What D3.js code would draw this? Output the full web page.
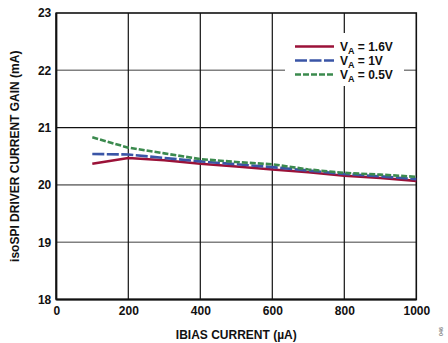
<!DOCTYPE html>
<html><head><meta charset="utf-8">
<script src="https://cdn.jsdelivr.net/npm/d3@7"></script>
<style>body{margin:0;background:#fff}svg{display:block}text{font-family:"Liberation Sans",Arial,sans-serif;font-weight:bold;fill:#111}</style>
</head><body>
<script>
const xValues = [100, 200, 300, 400, 500, 600, 700, 800, 900, 1000];
const va16 = [20.37, 20.47, 20.43, 20.37, 20.32, 20.27, 20.22, 20.16, 20.12, 20.07];
const va1 = [20.54, 20.53, 20.47, 20.41, 20.36, 20.31, 20.25, 20.19, 20.15, 20.10];
const va05 = [20.83, 20.65, 20.55, 20.45, 20.40, 20.36, 20.27, 20.21, 20.18, 20.14];
const xTicks = [0, 200, 400, 600, 800, 1000];
const yTicks = [18, 19, 20, 21, 22, 23];
const seriesNames = ["1.6V", "1V", "0.5V"];

const W = 448, H = 343;
const m = {l: 56.3, r: 416.3, t: 13, b: 299.5};
const svg = d3.select("body").append("svg").attr("width", W).attr("height", H);
const x = d3.scaleLinear().domain([0, 1000]).range([m.l, m.r]);
const y = d3.scaleLinear().domain([18, 23]).range([m.b, m.t]);

// grid
svg.append("g").selectAll("line").data(yTicks.filter(v => v > 18 && v < 23)).join("line")
  .attr("x1", m.l).attr("x2", m.r).attr("y1", d => y(d)).attr("y2", d => y(d))
  .attr("stroke", d => d === 21 ? "#111" : "#808080").attr("stroke-width", d => d === 21 ? 1.2 : 1.6);
svg.append("g").selectAll("line").data(xTicks.filter(v => v > 0 && v < 1000)).join("line")
  .attr("x1", d => x(d)).attr("x2", d => x(d)).attr("y1", m.t).attr("y2", m.b)
  .attr("stroke", "#111").attr("stroke-width", 1.2);

// legend background
svg.append("rect").attr("x", 285).attr("y", 33).attr("width", 119).attr("height", 53).attr("fill", "#fff");

// frame
svg.append("rect").attr("x", m.l).attr("y", m.t).attr("width", m.r - m.l).attr("height", m.b - m.t)
  .attr("fill", "none").attr("stroke", "#111").attr("stroke-width", 1.6);
svg.append("line").attr("x1", m.l).attr("x2", m.r).attr("y1", m.b).attr("y2", m.b).attr("stroke", "#111").attr("stroke-width", 2);
svg.append("line").attr("x1", m.l).attr("x2", m.l).attr("y1", m.t).attr("y2", m.b).attr("stroke", "#111").attr("stroke-width", 2);

// axes labels via d3 axes
const xAxis = svg.append("g").attr("transform", `translate(0,${m.b})`)
  .call(d3.axisBottom(x).tickValues(xTicks).tickFormat(d3.format("d")).tickSize(0).tickPadding(7));
xAxis.select(".domain").remove();
xAxis.selectAll("text").attr("font-size", 12).attr("font-weight", "bold").attr("fill", "#111")
  .style("font-family", '"Liberation Sans",Arial,sans-serif');
const yAxis = svg.append("g").attr("transform", `translate(${m.l},0)`)
  .call(d3.axisLeft(y).tickValues(yTicks).tickFormat(d3.format("d")).tickSize(0).tickPadding(5));
yAxis.select(".domain").remove();
yAxis.selectAll("text").attr("font-size", 12).attr("font-weight", "bold").attr("fill", "#111")
  .style("font-family", '"Liberation Sans",Arial,sans-serif');

// lines
const series = [
  {name: seriesNames[0], vals: va16, color: "#9b1238", dash: null},
  {name: seriesNames[1], vals: va1, color: "#3a55a6", dash: "12,2.5"},
  {name: seriesNames[2], vals: va05, color: "#3b8a4e", dash: "6,2"}
];
const line = d3.line().x((d, i) => x(xValues[i])).y(d => y(d));
series.forEach(s => {
  svg.append("path").datum(s.vals).attr("d", line).attr("fill", "none")
    .attr("stroke", s.color).attr("stroke-width", 2.6)
    .attr("stroke-dasharray", s.dash);
});

// legend
const lg = svg.append("g");
series.forEach((s, i) => {
  const yy = 46.5 + i * 14;
  lg.append("line").attr("x1", 295).attr("x2", 334).attr("y1", yy).attr("y2", yy)
    .attr("stroke", s.color).attr("stroke-width", 2.6).attr("stroke-dasharray", s.dash);
  const t = lg.append("text").attr("x", 340).attr("y", yy + 4).attr("font-size", 12);
  t.append("tspan").text("V");
  t.append("tspan").attr("font-size", 9).attr("dy", 3.5).text("A");
  t.append("tspan").attr("dy", -3.5).text(" = " + s.name);
});

// axis titles
svg.append("text").attr("x", (m.l + m.r) / 2).attr("y", 339).attr("text-anchor", "middle")
  .attr("font-size", 12).text("IBIAS CURRENT (µA)");
svg.append("text").attr("transform", `translate(19,${(m.t + m.b) / 2}) rotate(-90)`)
  .attr("text-anchor", "middle").attr("font-size", 12).text("isoSPI DRIVER CURRENT GAIN (mA)");
svg.append("text").attr("transform", "translate(443,336) rotate(-90)")
  .attr("font-size", 5.5).attr("font-weight", "normal").style("fill", "#888").text("046");
</script>
</body></html>
